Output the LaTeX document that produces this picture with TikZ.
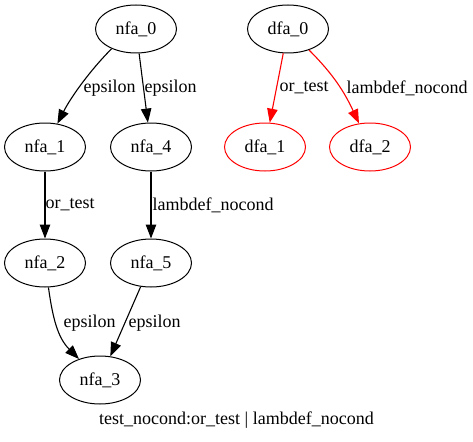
\documentclass[tikz,border=0pt]{standalone}
\usepackage{fontspec}
\setmainfont{Liberation Serif}
\usetikzlibrary{shapes.geometric,arrows.meta}
\begin{document}
\begin{tikzpicture}[x=1pt,y=1pt,
  state/.style={ellipse, draw, line width=1pt, minimum width=81pt, minimum height=48pt, inner sep=0pt, font=\fontsize{18}{22}\selectfont},
  redstate/.style={state, draw=red},
  arr/.style={line width=1.1pt, -{Triangle[length=14pt,width=10.5pt]}},
  redarr/.style={arr, draw=red},
  lbl/.style={font=\fontsize{18}{22}\selectfont, inner sep=1pt, anchor=west, text=black}]
\useasboundingbox (0,0) rectangle (473,-441);
\node[state] (nfa0) at (136,-29) {nfa\_0};
\node[state] (dfa0) at (288,-29) {dfa\_0};
\node[state] (nfa1) at (45,-147) {nfa\_1};
\node[state] (nfa4) at (151,-147) {nfa\_4};
\node[redstate] (dfa1) at (265,-147) {dfa\_1};
\node[redstate] (dfa2) at (370,-147) {dfa\_2};
\node[state] (nfa2) at (45,-263) {nfa\_2};
\node[state] (nfa5) at (151,-263) {nfa\_5};
\node[state] (nfa3) at (100,-380) {nfa\_3};
\node[lbl, anchor=center] (title) at (236.5,-420) {test\_nocond:or\_test | lambdef\_nocond};

\draw[arr] (nfa0.-141) .. controls +(-135:30) and +(63:30) .. (nfa1.62) node[lbl] (l1) at (82,-88) {epsilon};
\draw[arr] (nfa0) -- (nfa4) node[lbl] (l2) at (143,-88) {epsilon};
\draw[redarr] (dfa0) -- (dfa1) node[lbl] (l3) at (278,-88) {or\_test};
\draw[redarr] (dfa0) to[out=-45,in=115] (dfa2) node[lbl] (l4) at (345,-88) {lambdef\_nocond};
\draw[arr] (nfa1) -- (nfa2) node[lbl] (l5) at (44,-205) {or\_test};
\draw[arr] (nfa4) -- (nfa5) node[lbl] (l6) at (151,-205) {lambdef\_nocond};
\draw[arr] (nfa2) to[out=-82,in=135] (nfa3) node[lbl] (l7) at (62,-323) {epsilon};
\draw[arr] (nfa5) -- (nfa3) node[lbl] (l8) at (127,-323) {epsilon};
\end{tikzpicture}
\end{document}
